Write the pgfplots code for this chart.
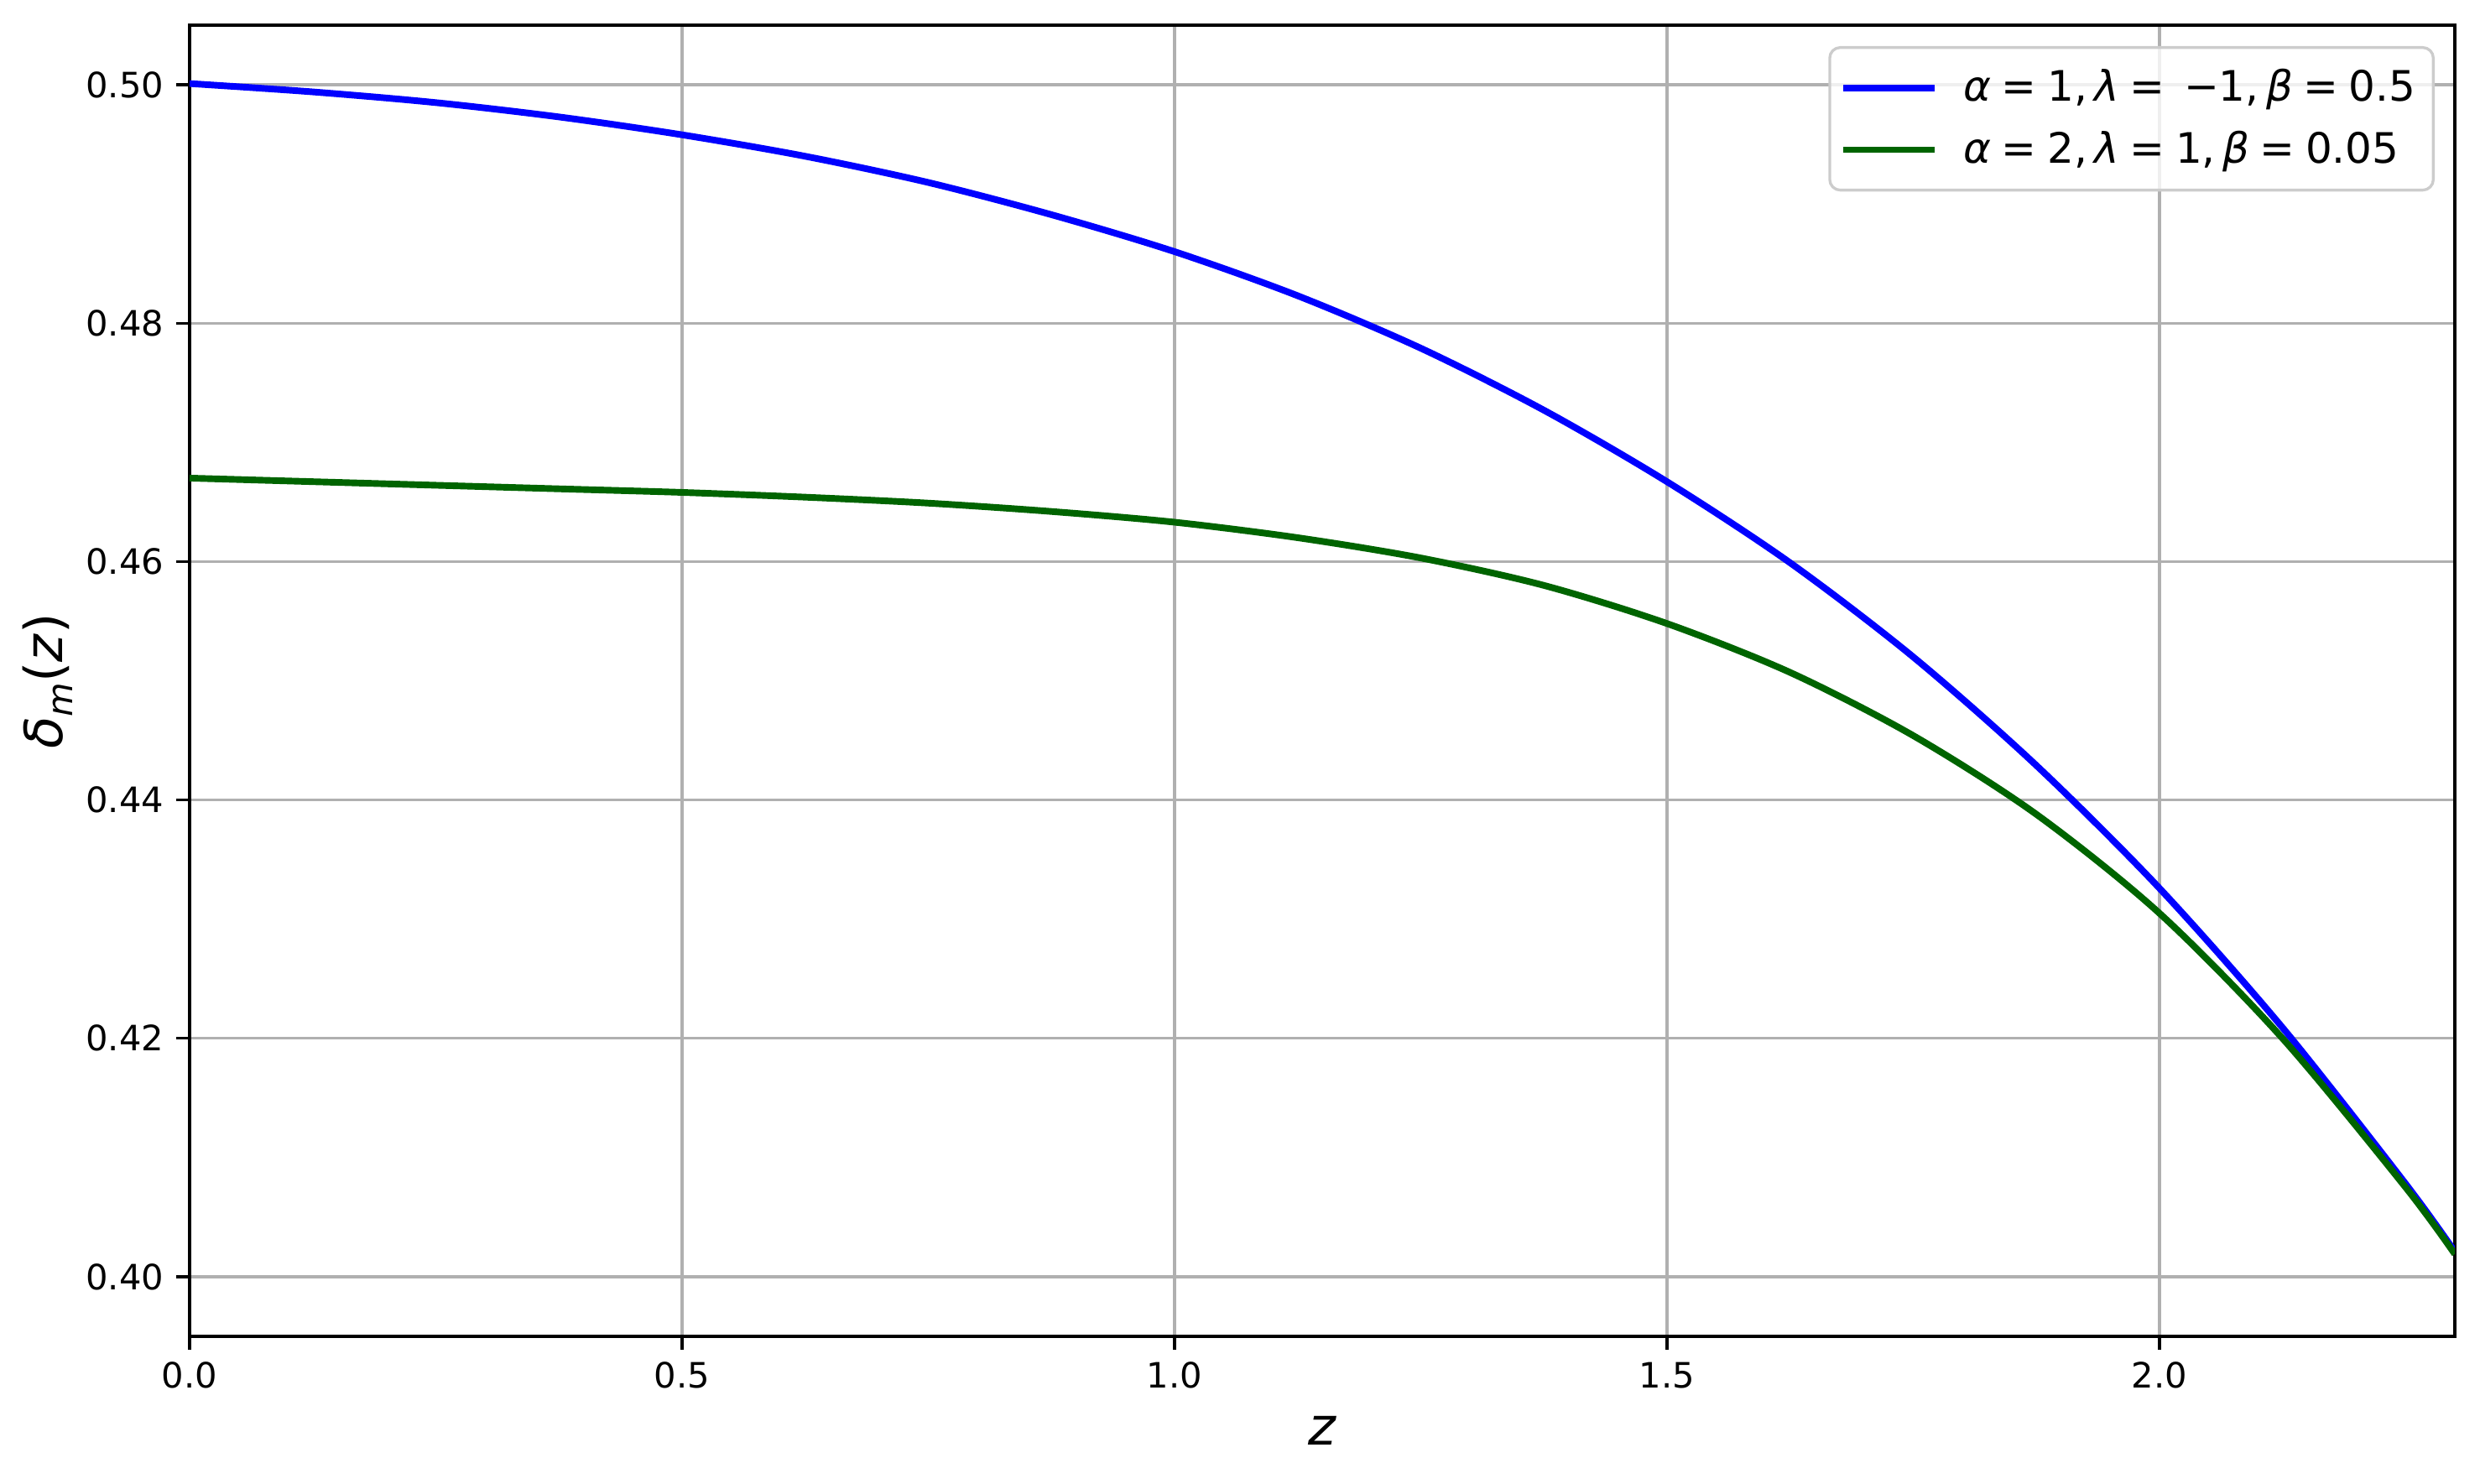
\documentclass[border=0pt]{standalone}
\usepackage{pgfplots}
\pgfplotsset{compat=1.18}
\usepackage{fontspec}
\setmainfont{DejaVu Sans}
\definecolor{dgreen}{RGB}{0,100,0}
\definecolor{gridgray}{RGB}{176,176,176}
\definecolor{legedge}{RGB}{204,204,204}
\newcommand{\iv}[1]{\textit{#1}}
\begin{document}
\begin{tikzpicture}
\useasboundingbox (-54.24pt,-42.24pt) rectangle (655.2pt,382.32pt);
\begin{axis}[
  at={(0,0)}, anchor=south west,
  scale only axis,
  width=648pt, height=375.12pt,
  xmin=0, xmax=2.3, ymin=0.395, ymax=0.505,
  xtick={0,0.5,1.0,1.5,2.0},
  ytick={0.40,0.42,0.44,0.46,0.48,0.50},
  xtick pos=bottom, ytick pos=left,
  minor tick num=0,
  tick align=outside,
  major tick length=3.84pt,
  every tick/.style={black, line width=0.8pt},
  axis line style={line width=0.8pt},
  grid=major,
  major grid style={gridgray, line width=0.8pt},
  /pgf/number format/assume math mode=true,
  xticklabel style={/pgf/number format/.cd, fixed, fixed zerofill, precision=1},
  yticklabel style={/pgf/number format/.cd, fixed, fixed zerofill, precision=2},
  scaled y ticks=false,
  tick label style={font=\fontsize{10}{12}\selectfont},
  xlabel={\iv{z}},
  ylabel={\iv{δ}\raisebox{-0.35ex}{\fontsize{10}{12}\selectfont\iv{m}}(\iv{z})},
  xlabel style={font=\fontsize{15}{18}\selectfont, at={(rel axis cs:0.5,0)}, anchor=center, yshift=-27pt},
  ylabel style={font=\fontsize{15}{18}\selectfont, at={(rel axis cs:0,0.5)}, anchor=center, yshift=40.6pt},
  legend style={at={(0.9911,0.984)}, anchor=north east, draw=legedge, line width=0.8pt, rounded corners=3pt,
    fill=white, fill opacity=0.8, text opacity=1, font=\fontsize{12}{14}\selectfont,
    inner xsep=3pt, inner ysep=4.2pt, row sep=3pt},
  legend cell align=left,
  legend image code/.code={\draw[#1] (0pt,0pt) -- (26pt,0pt);},
]
\addplot[blue, line width=1.9pt, smooth] coordinates {
(0.000,0.5001) (0.125,0.4994) (0.250,0.4985) (0.375,0.4973) (0.500,0.4958)
(0.625,0.4940) (0.750,0.4918) (0.875,0.4891) (1.000,0.4860) (1.125,0.4823)
(1.250,0.4779) (1.375,0.4727) (1.500,0.4667) (1.625,0.4599) (1.750,0.4520)
(1.875,0.4429) (2.000,0.4326) (2.125,0.4209) (2.250,0.4078) (2.300,0.4021)
};
\addlegendentry{\hspace{5.4pt}\iv{α}\hspace{0.25em}=\hspace{0.25em}1,\hspace{0.17em}\iv{λ}\hspace{0.25em}=\hspace{0.45em}−1,\hspace{0.17em}\iv{β}\hspace{0.25em}=\hspace{0.25em}0.5}
\addplot[dgreen, line width=1.9pt, smooth] coordinates {
(0.000,0.4670) (0.125,0.4667) (0.250,0.4664) (0.375,0.4661) (0.500,0.4658)
(0.625,0.4654) (0.750,0.4649) (0.875,0.4642) (1.000,0.4633) (1.125,0.4620)
(1.250,0.4603) (1.375,0.4580) (1.500,0.4548) (1.625,0.4507) (1.750,0.4454)
(1.875,0.4388) (2.000,0.4305) (2.125,0.4200) (2.250,0.4075) (2.300,0.4019)
};
\addlegendentry{\hspace{5.4pt}\iv{α}\hspace{0.25em}=\hspace{0.25em}2,\hspace{0.17em}\iv{λ}\hspace{0.25em}=\hspace{0.25em}1,\hspace{0.17em}\iv{β}\hspace{0.25em}=\hspace{0.25em}0.05}
\end{axis}
\end{tikzpicture}
\end{document}
